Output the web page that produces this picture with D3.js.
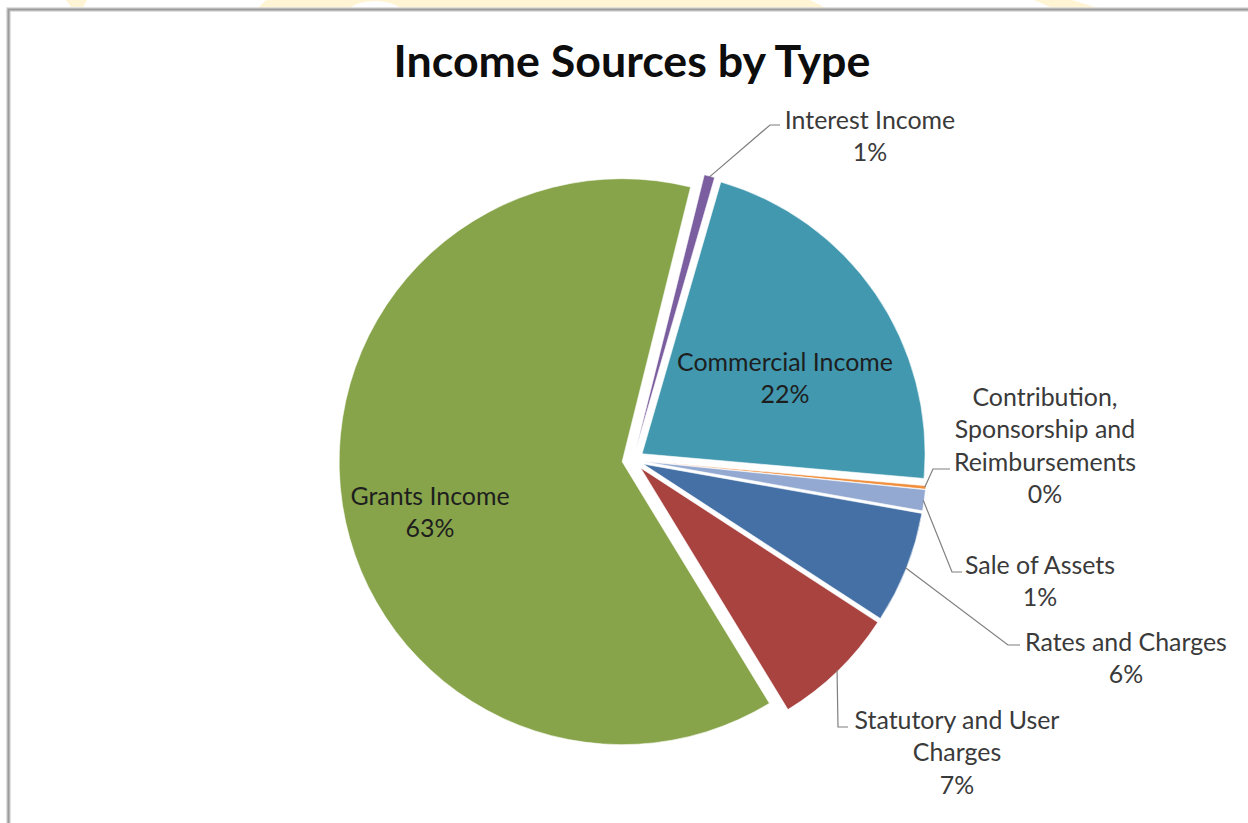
<!DOCTYPE html>
<html>
<head>
<meta charset="utf-8">
<script src="https://cdn.jsdelivr.net/npm/d3@7"></script>
<style>
  html, body { margin: 0; padding: 0; background: #fff; }
  svg { display: block; }
</style>
</head>
<body>
<div id="chart"></div>
<script>
// share of total income (%), in slice order clockwise from the first slice
var categories = ["Interest Income", "Commercial Income", "Contribution, Sponsorship and Reimbursements",
                  "Sale of Assets", "Rates and Charges", "Statutory and User Charges", "Grants Income"];
var shares = [0.6, 21.9, 0.2, 1.2, 6.4, 7.1, 62.6];
// label text as it wraps in the original
var labelLines = [["Interest Income"], ["Commercial Income"], ["Contribution,", "Sponsorship and", "Reimbursements"],
                  ["Sale of Assets"], ["Rates and Charges"], ["Statutory and User", "Charges"], ["Grants Income"]];
var sliceColors = ["#7b5e9f", "#4198af", "#f0903f", "#93a9d1", "#4470a5", "#a84340", "#87a44a"];

// label placement relative to pie centre (x, y = centre of first line)
var labelLayout = [
  {x: 237, y: -340, elbow: [137, -335], end: [147, -335]},
  {x: 152, y: -98, inside: true},
  {x: 412, y: -63, elbow: [300, 9], end: [317, 9]},
  {x: 407, y: 105, elbow: [319, 112], end: [329, 112]},
  {x: 493, y: 182, elbow: [375, 185], end: [387, 185]},
  {x: 324, y: 260, elbow: [205, 267], end: [215, 267]},
  {x: -203, y: 36, inside: true}
];

var W = 1248, H = 823;
var cx = 633, cy = 460, R = 283, explode = 11;
var FONT = "Lato, 'Open Sans', sans-serif";
var lineH = 32.5;

var svg = d3.select("#chart").append("svg")
    .attr("width", W)
    .attr("height", H);

// bits of the page watermark showing above the chart frame
var wm = svg.append("g").attr("fill", "#fff4d3");
wm.append("path").attr("d", "M66,0 L87,0 L83,7 L71,7 Z");
wm.append("path").attr("d", "M258,8 L266,0 L810,0 L826,8 Z");
wm.append("path").attr("d", "M1034,0 L1072,0 L1098,8 L1052,8 Z");
svg.append("ellipse").attr("cx", 375).attr("cy", 13).attr("rx", 27).attr("ry", 12).attr("fill", "#fff");

// chart frame
svg.append("path")
    .attr("d", "M8.5," + H + " V9.5 H" + W)
    .attr("fill", "none")
    .attr("stroke", "#d6d6d6")
    .attr("stroke-width", 4.5);
svg.append("path")
    .attr("d", "M8.5," + H + " V9.5 H" + W)
    .attr("fill", "none")
    .attr("stroke", "#9c9c9c")
    .attr("stroke-width", 2);

function fitSize(text, weight, target, base) {
  var t = svg.append("text")
      .attr("font-family", FONT)
      .attr("font-weight", weight)
      .attr("font-size", base)
      .text(text);
  var w = t.node().getComputedTextLength();
  t.remove();
  return base * target / w;
}

// title
var titleSize = fitSize("Income Sources by Type", "bold", 477, 40);
svg.append("text")
    .attr("x", 632)
    .attr("y", 77)
    .attr("text-anchor", "middle")
    .attr("font-family", FONT)
    .attr("font-weight", "bold")
    .attr("font-size", titleSize)
    .attr("fill", "#0d0d0d")
    .text("Income Sources by Type");

var labelSize = fitSize("Commercial Income", "normal", 216, 20);

var start = 14 * Math.PI / 180;
var pie = d3.pie()
    .sort(null)
    .value(function(d) { return d; })
    .startAngle(start)
    .endAngle(start + 2 * Math.PI);
var arcs = pie(shares);
var total = d3.sum(shares);

var arc = d3.arc().innerRadius(0).outerRadius(R);

function mid(d) { return (d.startAngle + d.endAngle) / 2; }
function shift(d) { var m = mid(d); return [Math.sin(m) * explode, -Math.cos(m) * explode]; }

var g = svg.append("g").attr("transform", "translate(" + cx + "," + cy + ")");

g.selectAll("path.slice")
  .data(arcs)
  .enter()
  .append("path")
    .attr("class", "slice")
    .attr("transform", function(d) { var s = shift(d); return "translate(" + s[0] + "," + s[1] + ")"; })
    .attr("d", arc)
    .attr("fill", function(d, i) { return sliceColors[i]; })
    .attr("stroke", "#fff")
    .attr("stroke-width", 0.6);

// leader lines for outside labels
arcs.forEach(function(d, i) {
  var L = labelLayout[i];
  if (L.inside) return;
  var s = shift(d), m = mid(d);
  var p0 = [s[0] + Math.sin(m) * (R - 1), s[1] - Math.cos(m) * (R - 1)];
  g.append("path")
      .attr("d", d3.line()([p0, L.elbow, L.end]))
      .attr("fill", "none")
      .attr("stroke", "#7f7f7f")
      .attr("stroke-width", 1.2);
});

// data labels
arcs.forEach(function(d, i) {
  var L = labelLayout[i];
  var lines = labelLines[i].concat([Math.round(d.data / total * 100) + "%"]);
  var t = g.append("text")
      .attr("text-anchor", "middle")
      .attr("font-family", FONT)
      .attr("font-size", labelSize)
      .attr("fill", L.inside ? "#1e1e1e" : "#3a3a3a");
  lines.forEach(function(line, k) {
    t.append("tspan")
        .attr("x", L.x)
        .attr("y", L.y + k * lineH)
        .attr("dy", "0.35em")
        .text(line);
  });
});
</script>
</body>
</html>
